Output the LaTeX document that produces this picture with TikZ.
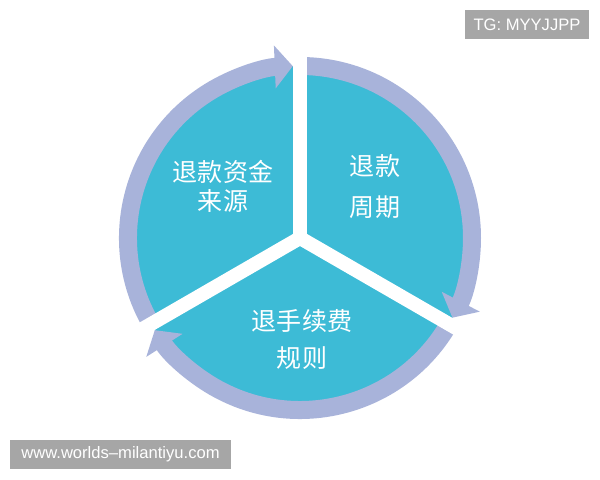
\documentclass[tikz,border=0pt]{standalone}
\usepackage{fontspec}
\newfontfamily\cjk{Noto Sans CJK SC}
\newfontfamily\marque{Liberation Sans}
\usetikzlibrary{arrows.meta}
\definecolor{turquoise}{RGB}{61,187,214}
\definecolor{lavande}{RGB}{168,179,218}
\definecolor{grismarque}{RGB}{166,166,166}
\begin{document}
\begin{tikzpicture}[x=0.025cm, y=0.025cm]
\tikzset{fleche/.style={draw=lavande, line width=0.45cm, -{Triangle[length=0.45cm, width=1.05cm]}},
  fente/.style={draw=white, line width=0.35cm},
  etiquette/.style={text=white, align=center, font=\cjk\fontsize{17.8}{#1}\selectfont},
  marque/.style={fill=grismarque, text=white, font=\marque\fontsize{11.8}{14}\selectfont, inner sep=0pt, minimum height=0.725cm}}
\useasboundingbox (0,0) rectangle (600,480);
\coordinate (O) at (300,242);
\fill[turquoise] (O) circle (172);
\draw[fleche] ([shift={(210:172)}]O) arc[start angle=210, end angle=92.4, radius=172];
\draw[fleche] ([shift={(90:172)}]O) arc[start angle=90, end angle=-27.6, radius=172];
\draw[fleche] ([shift={(-30:172)}]O) arc[start angle=-30, end angle=-147.6, radius=172];
\draw[fente] (O) -- ++(90:215);
\draw[fente] (O) -- ++(-30:215);
\draw[fente] (O) -- ++(210:215);
\node[etiquette=20.6pt] (source) at (223,293.6) {退款资金\\来源};
\node[etiquette=29pt] (periode) at (375,293.7) {退款\\周期};
\node[etiquette=26pt] (frais) at (302,140.5) {退手续费\\规则};
\node[marque, minimum width=3.1cm] (tg) at (527,455.5) {TG: MYYJJPP};
\node[marque, minimum width=5.525cm] (site) at (120.5,25.5) {www.worlds–milantiyu.com};
\end{tikzpicture}
\end{document}
